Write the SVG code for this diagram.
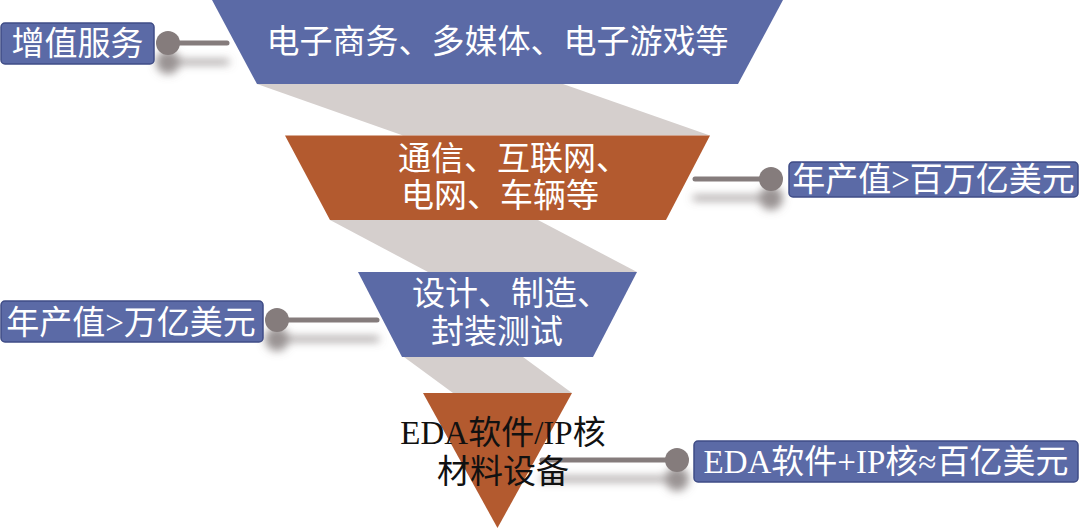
<svg xmlns="http://www.w3.org/2000/svg" width="1080" height="531" viewBox="0 0 1080 531">
  <defs>
    <filter id="pinShadow" x="-30%" y="-100%" width="160%" height="400%">
      <feOffset in="SourceAlpha" dx="0" dy="19" result="off"/>
      <feGaussianBlur in="off" stdDeviation="4.5" result="blur"/>
      <feFlood flood-color="#6f6666" flood-opacity="0.7"/>
      <feComposite in2="blur" operator="in" result="sh"/>
      <feMerge>
        <feMergeNode in="sh"/>
        <feMergeNode in="SourceGraphic"/>
      </feMerge>
    </filter>
  </defs>
  <style>
    .band { fill: #d5cfcd; }
    .blue { fill: #5b6aa6; }
    .orange { fill: #b35a2f; }
    .box { fill: #5b6aa6; stroke: #3f4c86; stroke-width: 1.5; }
    .t { font-family: "Liberation Serif", "Noto Sans CJK SC", serif; font-size: 33px; }
    .w { fill: #ffffff; }
    .k { fill: #111111; }
    .pinline { stroke: #857c7c; stroke-width: 5; stroke-linecap: round; fill: none; }
    .pinhead { fill: #857c7c; }
  </style>

  <g id="bands">
    <polygon class="band" points="257,84 563,84 710,135.5 403,135.5"/>
    <polygon class="band" points="330,220 538,220 637,272 428,272"/>
    <polygon class="band" points="404,357 523,357 572,393 453,393"/>
  </g>

  <g id="level1">
    <polygon class="blue" points="212,0 783,0 738,84 257,84"/>
    <text class="t w" x="497.5" y="53" text-anchor="middle">电子商务、多媒体、电子游戏等</text>
  </g>

  <g id="level2">
    <polygon class="orange" points="285,135.5 710,135.5 666,220 330,220"/>
    <text class="t w" x="398" y="170">通信、互联网、</text>
    <text class="t w" x="401" y="207">电网、车辆等</text>
  </g>

  <g id="level3">
    <polygon class="blue" points="358,272 637,272 593,357 402,357"/>
    <text class="t w" x="412" y="305">设计、制造、</text>
    <text class="t w" x="431" y="343">封装测试</text>
  </g>

  <g id="connectors">
    <g filter="url(#pinShadow)">
      <line class="pinline" x1="168" y1="43" x2="227" y2="43"/>
      <circle class="pinhead" cx="168" cy="43" r="12"/>
    </g>
    <g filter="url(#pinShadow)">
      <line class="pinline" x1="695" y1="179" x2="771" y2="179"/>
      <circle class="pinhead" cx="771" cy="179" r="12"/>
    </g>
    <g filter="url(#pinShadow)">
      <line class="pinline" x1="277" y1="320" x2="377" y2="320"/>
      <circle class="pinhead" cx="277" cy="320" r="12"/>
    </g>
    <g filter="url(#pinShadow)">
      <line class="pinline" x1="542" y1="460" x2="677" y2="460"/>
      <circle class="pinhead" cx="677" cy="460" r="12"/>
    </g>
  </g>

  <g id="level4">
    <polygon class="orange" points="423,393 572,393 497.5,528"/>
    <text class="t k" x="503" y="444" text-anchor="middle">EDA软件/IP核</text>
    <text class="t k" x="503" y="483" text-anchor="middle">材料设备</text>
  </g>

  <g id="label-value-added">
    <rect class="box" x="1" y="23" width="153" height="41" rx="4"/>
    <text class="t w" x="77.5" y="55" text-anchor="middle">增值服务</text>
  </g>

  <g id="label-hundred-trillion">
    <rect class="box" x="789" y="162" width="289" height="35" rx="4"/>
    <text class="t w" x="933.5" y="191" text-anchor="middle">年产值&gt;百万亿美元</text>
  </g>

  <g id="label-trillion">
    <rect class="box" x="1" y="301" width="262" height="41" rx="4"/>
    <text class="t w" x="131" y="334" text-anchor="middle">年产值&gt;万亿美元</text>
  </g>

  <g id="label-eda">
    <rect class="box" x="694" y="441" width="384" height="41" rx="4"/>
    <text class="t w" x="886" y="473" text-anchor="middle">EDA软件+IP核≈百亿美元</text>
  </g>
</svg>
